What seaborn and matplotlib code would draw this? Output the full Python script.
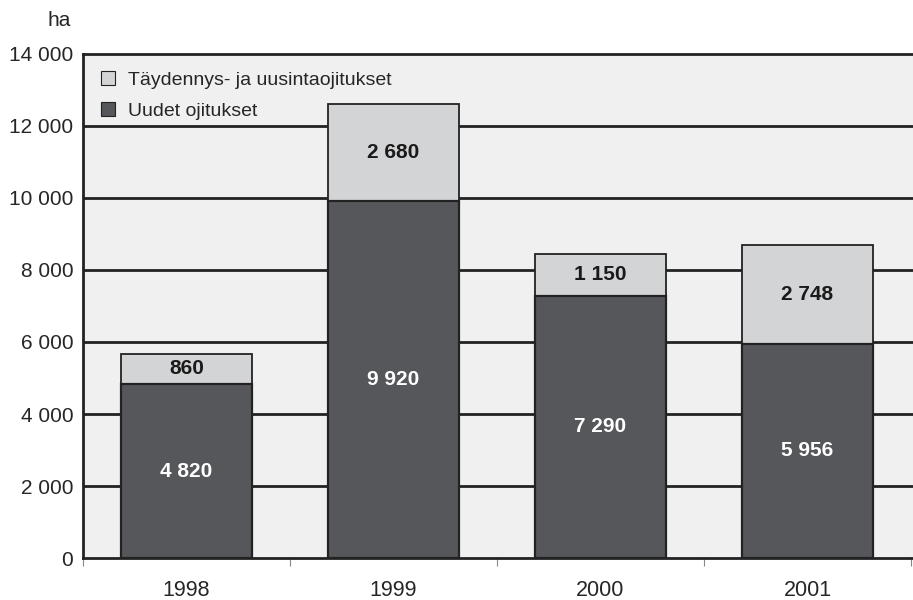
import matplotlib
matplotlib.use('Agg')
import matplotlib.pyplot as plt
import numpy as np
import pandas as pd
import seaborn as sns
from matplotlib.patches import Patch

years = ['1998', '1999', '2000', '2001']
uudet = [4820, 9920, 7290, 5956]
taydennys = [860, 2680, 1150, 2748]
yticks = [0, 2000, 4000, 6000, 8000, 10000, 12000, 14000]
ytick_labels = ['0', '2 000', '4 000', '6 000', '8 000', '10 000', '12 000', '14 000']
label_uudet = ['4 820', '9 920', '7 290', '5 956']
label_tayd = ['860', '2 680', '1 150', '2 748']

dark = '#56575b'
light = '#d3d4d6'
edge = '#222222'

sns.set_style('white')
plt.rcParams['font.family'] = ['Liberation Sans', 'DejaVu Sans']

df = pd.DataFrame({'year': years, 'uudet': uudet, 'taydennys': taydennys})
df['total'] = df['uudet'] + df['taydennys']

fig = plt.figure(figsize=(9.13, 6.0), dpi=100)
ax = fig.add_axes([83 / 913, 42 / 600, 830 / 913, 504 / 600])
ax.set_facecolor('#f0f0f0')

for y in yticks[1:-1]:
    ax.axhline(y, color=edge, lw=2, zorder=0.5)

sns.barplot(data=df, x='year', y='total', color=light, width=0.63,
            edgecolor=edge, linewidth=1.3, saturation=1, ax=ax, zorder=2)
sns.barplot(data=df, x='year', y='uudet', color=dark, width=0.63,
            edgecolor=edge, linewidth=1.6, saturation=1, ax=ax, zorder=3)

for i in range(len(years)):
    ax.text(i, uudet[i] / 2, label_uudet[i], ha='center', va='center',
            color='white', fontsize=15, fontweight='bold', zorder=5)
    ax.text(i, uudet[i] + taydennys[i] / 2, label_tayd[i], ha='center', va='center',
            color='#1a1a1a', fontsize=15, fontweight='bold', zorder=5)

ax.set_xlim(-0.5, 3.51)
ax.set_ylim(0, 14000)
ax.set_yticks(yticks)
ax.set_yticklabels(ytick_labels, fontsize=15)
ax.set_xticks(range(len(years)))
ax.set_xticklabels(years, fontsize=15.5)
ax.set_xticks([-0.5, 0.5, 1.5, 2.5, 3.5], minor=True)
ax.tick_params(axis='x', which='major', bottom=False, length=0, pad=16)
ax.tick_params(axis='x', which='minor', bottom=True, length=6, width=0.8, color='#888888')
ax.tick_params(axis='y', length=0, pad=7)
ax.set_xlabel('')
ax.set_ylabel('')

for side in ['top', 'left', 'bottom']:
    ax.spines[side].set_color(edge)
    ax.spines[side].set_linewidth(2)
    ax.spines[side].set_zorder(6)
ax.spines['right'].set_visible(False)

fig.text(59 / 913, 1 - 20 / 600, 'ha', ha='center', va='center', fontsize=15)

handles = [Patch(facecolor=light, edgecolor=edge, linewidth=0.8, label='Täydennys- ja uusintaojitukset'),
           Patch(facecolor=dark, edgecolor=edge, linewidth=0.8, label='Uudet ojitukset')]
leg = ax.legend(handles=handles, loc='upper left', bbox_to_anchor=(0.0, 1.0), frameon=False,
                fontsize=14, handlelength=0.72, handleheight=0.72, handletextpad=0.67,
                labelspacing=0.65)
leg.set_zorder(7)

fig.savefig('out.png', dpi=100)
